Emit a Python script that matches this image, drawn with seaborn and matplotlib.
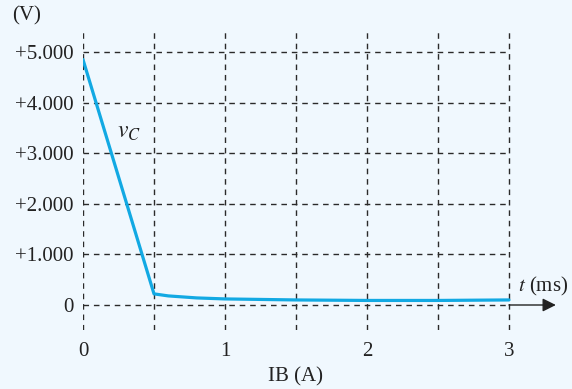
import numpy as np
import pandas as pd
import matplotlib
matplotlib.use('Agg')
import matplotlib.pyplot as plt
import seaborn as sns

# Datos
t_ms = [0.0, 0.5, 0.6, 0.8, 1.0, 1.5, 2.0, 2.5, 3.0]
v_c = [4.85, 0.22, 0.18, 0.14, 0.12, 0.10, 0.09, 0.09, 0.10]

x_ticks = [0, 1, 2, 3]
x_grid = [0, 0.5, 1, 1.5, 2, 2.5, 3]
y_ticks = [0, 1, 2, 3, 4, 5]
y_labels = ['0', '+1.000', '+2.000', '+3.000', '+4.000', '+5.000']

bg = '#f0f8fe'
line_color = '#12a9e3'
grid_color = '#2a2a2a'

sns.set_style('white')
plt.rcParams['font.family'] = ['Liberation Serif', 'DejaVu Serif']
plt.rcParams['mathtext.fontset'] = 'stix'

df = pd.DataFrame({'t': t_ms, 'v': v_c})

fig = plt.figure(figsize=(5.72, 3.89), dpi=100, facecolor=bg)
ax = fig.add_axes([83 / 572, 1 - 330 / 389, 477 / 572, 302 / 389])
ax.set_facecolor(bg)

ax.set_xlim(0, 477 / 142)
ax.set_ylim((305 - 330) / 50.6, (305 - 28) / 50.6)

# Rejilla discontinua
for xv in x_grid:
    ax.axvline(xv, color=grid_color, lw=1.0, ls=(0, (4, 3.5)), zorder=1)
for yv in y_ticks:
    ax.hlines(yv, 0, 3, color=grid_color, lw=1.0, ls=(0, (4, 3.5)), zorder=1)

# Eje de tiempo con flecha
ax.annotate('', xy=(3.33, 0), xytext=(3.0, 0),
            arrowprops=dict(arrowstyle='-|>', color='#222222', lw=1.0,
                            mutation_scale=20, shrinkA=0, shrinkB=0))

sns.lineplot(data=df, x='t', y='v', color=line_color, lw=2.3, ax=ax, zorder=3)

ax.text(0.32, 3.4, r'$v_C$', fontsize=17, ha='center', va='center', color='#222222')
ax.text(3.06, 0.36, r'$t$ (ms)', fontsize=15, ha='left', va='center', color='#222222')
fig.text(27 / 572, 1 - 16 / 389, '(V)', fontsize=15, ha='center', va='center', color='#222222')

ax.set_xticks(x_ticks)
ax.set_xticklabels([str(v) for v in x_ticks])
ax.set_yticks(y_ticks)
ax.set_yticklabels(y_labels)
ax.tick_params(axis='both', length=0, labelsize=15, colors='#222222')
ax.tick_params(axis='y', pad=7)
ax.tick_params(axis='x', pad=9)

ax.set_xlabel('')
ax.set_ylabel('')
fig.text(296 / 572, 1 - 377 / 389, 'IB (A)', fontsize=15, ha='center', va='center', color='#222222')

for s in ax.spines.values():
    s.set_visible(False)

fig.savefig('out.png', dpi=100, facecolor=bg)
